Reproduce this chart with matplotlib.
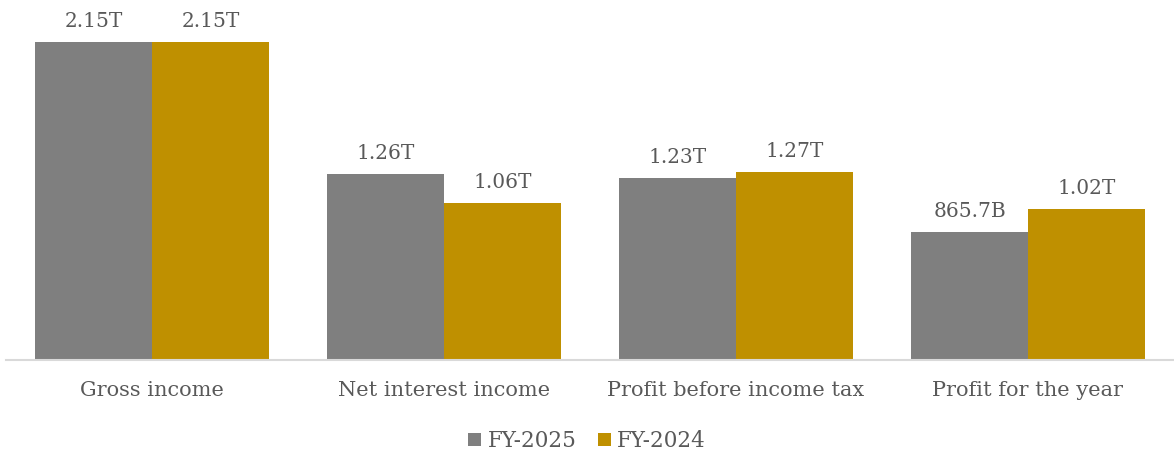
import matplotlib.pyplot as plt
import numpy as np

categories = ['Gross income', 'Net interest income', 'Profit before income tax', 'Profit for the year']
fy2025 = [2.15, 1.26, 1.23, 0.8657]
fy2024 = [2.15, 1.06, 1.27, 1.02]
labels_2025 = ['2.15T', '1.26T', '1.23T', '865.7B']
labels_2024 = ['2.15T', '1.06T', '1.27T', '1.02T']

plt.rcParams['font.family'] = ['DejaVu Serif']
txt = '#595959'

fig = plt.figure(figsize=(11.74, 4.57), dpi=100)
ax = fig.add_axes([6 / 1174, 97 / 457, 1168 / 1174, 360 / 457])

x = np.arange(len(categories))
w = 0.4
b1 = ax.bar(x - w / 2, fy2025, w, color='#7F7F7F', label='FY-2025')
b2 = ax.bar(x + w / 2, fy2024, w, color='#BF9000', label='FY-2024')

for bars, labs in ((b1, labels_2025), (b2, labels_2024)):
    for r, s in zip(bars, labs):
        ax.annotate(s, (r.get_x() + r.get_width() / 2, r.get_height()),
                    xytext=(0, 8), textcoords='offset points',
                    ha='center', va='bottom', fontsize=14.5, color=txt)

ax.set_xlim(-0.5, 3.5)
ax.set_ylim(0, 360 / 147.9)
ax.set_xticks(x)
ax.set_xticklabels(categories, fontsize=15, color=txt)
ax.tick_params(axis='x', length=0, pad=15)
ax.set_yticks([])
for sp in ['top', 'right', 'left']:
    ax.spines[sp].set_visible(False)
ax.spines['bottom'].set_color('#D9D9D9')
ax.spines['bottom'].set_linewidth(1.5)

leg = fig.legend(handles=[b1, b2], loc='center', bbox_to_anchor=(0.5, 16 / 457),
                 ncol=2, frameon=False, fontsize=15.5, handlelength=0.6,
                 handleheight=0.6, handletextpad=0.3, columnspacing=1.0)
for t in leg.get_texts():
    t.set_color(txt)

fig.savefig('out.png', dpi=100)
